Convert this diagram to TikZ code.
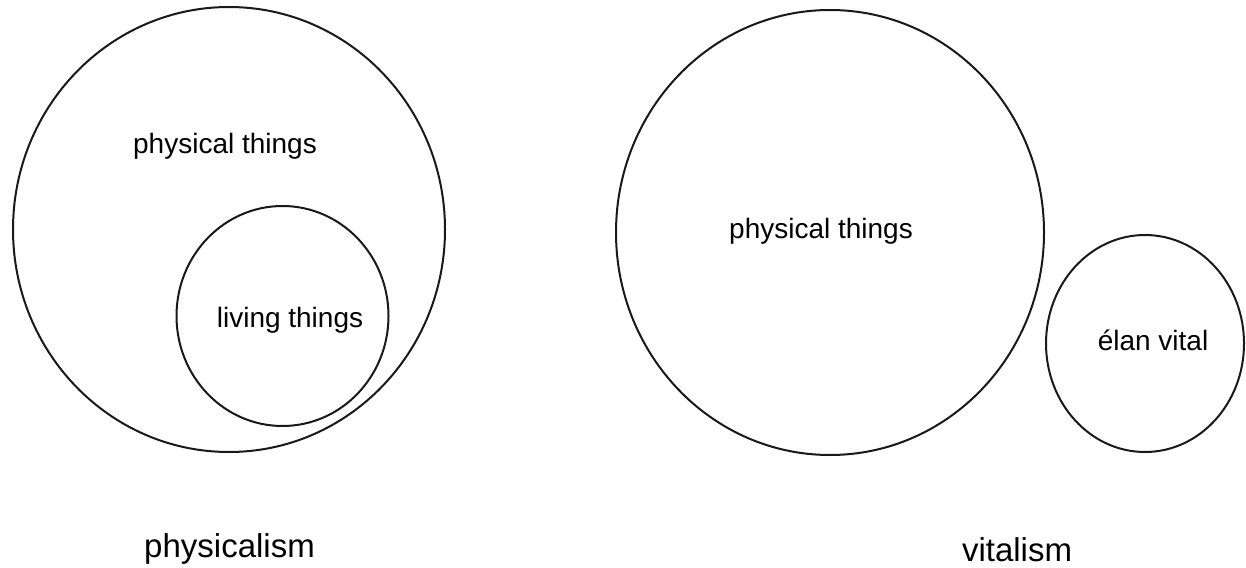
\documentclass[tikz,border=0pt]{standalone}
\usepackage{fontspec}
\setmainfont{Liberation Sans}
\usetikzlibrary{shapes.geometric}
\begin{document}
\begin{tikzpicture}[x=0.5pt,y=-0.5pt,
  setcircle/.style={draw=black!90, line width=1pt, ellipse, inner sep=0pt},
  lbl/.style={anchor=base, inner sep=0pt, font=\fontsize{14}{16}\selectfont},
  captiontext/.style={anchor=base, inner sep=0pt, font=\fontsize{16.5}{19}\selectfont}]
\useasboundingbox[fill=white] (0,0) rectangle (1246,567);
% physicalism
\node[setcircle, minimum width=216pt, minimum height=222.5pt] (phys) at (229,229.5) {};
\node[setcircle, minimum width=106pt, minimum height=110pt] (living) at (282.5,316) {};
\node[lbl] (physlbl) at (225,153) {physical things};
\node[lbl] (livlbl) at (290,327) {living things};
\node[captiontext] (physcap) at (229.5,557) {physicalism};
% vitalism
\node[setcircle, minimum width=214pt, minimum height=222.5pt] (phys2) at (830,232.5) {};
\node[setcircle, minimum width=99pt, minimum height=108.5pt] (elan) at (1145,343.5) {};
\node[lbl] (phys2lbl) at (821,238) {physical things};
\node[lbl] (elanlbl) at (1153,350) {élan vital};
\node[captiontext] (vitcap) at (1017,561) {vitalism};
\end{tikzpicture}
\end{document}
